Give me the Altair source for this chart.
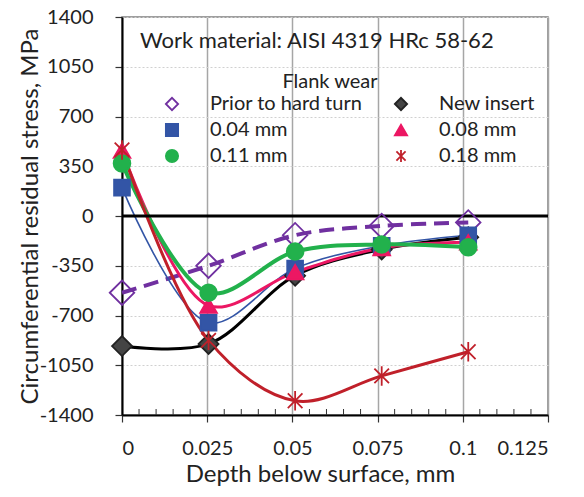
import altair as alt
import pandas as pd

depth_mm = [0, 0.0254, 0.0508, 0.0762, 0.1016]
series_names = ["Prior to hard turn", "New insert", "0.04 mm", "0.08 mm", "0.11 mm", "0.18 mm"]
prior = [-540, -350, -135, -70, -45]
new_insert = [-915, -900, -420, -235, -150]
w004 = [200, -750, -370, -210, -135]
w008 = [460, -630, -395, -225, -185]
w011 = [370, -540, -250, -200, -220]
w018 = [465, -875, -1300, -1125, -955]
x_ticks = [0, 0.025, 0.05, 0.075, 0.1, 0.125]
y_ticks = [-1400, -1050, -700, -350, 0, 350, 700, 1050, 1400]
minor_x = [round(i * 0.005, 3) for i in range(1, 25) if i % 5 != 0]
title_text = "Work material: AISI 4319 HRc 58-62"
legend_title = "Flank wear"
# legend fills column by column: this order gives the two-column layout of the reference
legend_order = ["Prior to hard turn", "0.04 mm", "0.11 mm", "New insert", "0.08 mm", "0.18 mm"]

line_colors = ["#7030A0", "#000000", "#3355A6", "#EC1763", "#22B14C", "#C0202A"]
marker_stroke = ["#7030A0", "#222222", "#3355A6", "#EC1763", "#22B14C", "#C0202A"]
marker_fill = ["transparent", "#444444", "#3355A6", "#EC1763", "#22B14C", "transparent"]
line_widths = [4, 3, 1.6, 3, 4, 3]
marker_sizes = [600, 400, 250, 280, 280, 380]
star = "M-0.75,-0.75L0.75,0.75M-0.75,0.75L0.75,-0.75M0,-1L0,1"
shapes = ["diamond", "diamond", "square", "triangle-up", "circle", star]
dashes = [[15, 8], None, None, None, None, None]

rows = []
for name, vals in zip(series_names, [prior, new_insert, w004, w008, w011, w018]):
    for d, v in zip(depth_mm, vals):
        rows.append({"depth": d, "stress": v, "series": name})
df = pd.DataFrame(rows)


def ordered(values, order):
    m = dict(zip(series_names, values))
    return [m[n] for n in order]


FONT = "Lato"
W, H = 426, 398
xscale = alt.Scale(domain=[0, 0.125], nice=False, zero=False)
yscale = alt.Scale(domain=[-1400, 1400], nice=False)

xaxis = alt.Axis(values=x_ticks, title="Depth below surface, mm",
                 labelExpr="'' + datum.value",
                 grid=True, gridColor="#A6A6A6", gridWidth=1.5,
                 domainColor="#000000", domainWidth=2, tickColor="#333333",
                 tickSize=7, tickWidth=1.2, labelPadding=16, titlePadding=4, titleX=198)
yaxis = alt.Axis(values=y_ticks, title="Circumferential residual stress, MPa",
                 labelExpr="'' + datum.value",
                 grid=True, gridColor="#D0D0D0", gridDash=[2, 2], gridWidth=1,
                 domainColor="#000000", domainWidth=2, tickColor="#333333",
                 tickSize=7, tickWidth=1.2, labelPadding=22, titlePadding=0, titleX=-80)

base = alt.Chart(df)

line_layers = []
for i, name in enumerate(series_names):
    kw = dict(interpolate="catmull-rom", color=line_colors[i], strokeWidth=line_widths[i])
    if dashes[i]:
        kw["strokeDash"] = dashes[i]
    line_layers.append(
        base.transform_filter(alt.datum.series == name).mark_line(**kw).encode(
            x=alt.X("depth:Q", scale=xscale, axis=xaxis),
            y=alt.Y("stress:Q", scale=yscale, axis=yaxis),
            order="depth:Q",
        )
    )

legend = alt.Legend(title=None, orient="none", legendX=23, legendY=77, columns=2,
                    padding=0, labelFont=FONT, labelFontSize=20, labelColor="#222222",
                    symbolSize=150, symbolStrokeWidth=1.8,
                    symbolOffset=17, labelOffset=28, rowPadding=6, columnPadding=11)

shape_scale = alt.Scale(domain=legend_order, range=ordered(shapes, legend_order))
fill_scale = alt.Scale(domain=legend_order, range=ordered(marker_fill, legend_order))
color_scale = alt.Scale(domain=legend_order, range=ordered(marker_stroke, legend_order))

point_layers = []
for i, name in enumerate(series_names):
    point_layers.append(
        base.transform_filter(alt.datum.series == name).mark_point(
            filled=False, strokeWidth=1.8, opacity=1, size=marker_sizes[i]).encode(
            x=alt.X("depth:Q", scale=xscale, axis=xaxis),
            y=alt.Y("stress:Q", scale=yscale, axis=yaxis),
            shape=alt.Shape("series:N", scale=shape_scale, legend=legend),
            fill=alt.Fill("series:N", scale=fill_scale, legend=legend),
            color=alt.Color("series:N", scale=color_scale, legend=legend),
        )
    )

zero = alt.Chart(pd.DataFrame({"z": [0]})).mark_rule(color="#000000", strokeWidth=3).encode(
    y=alt.Y("z:Q", scale=yscale, axis=yaxis))

minor = alt.Chart(pd.DataFrame({"m": minor_x})).mark_rule(color="#333333", strokeWidth=1).encode(
    x=alt.X("m:Q", scale=xscale, axis=xaxis), y=alt.value(H - 6), y2=alt.value(H))

title = alt.Chart(pd.DataFrame({"t": [title_text]})).mark_text(
    align="left", baseline="middle", font=FONT, fontSize=22, color="#222222").encode(
    text="t:N", x=alt.value(18), y=alt.value(24))

leg_title = alt.Chart(pd.DataFrame({"t": [legend_title]})).mark_text(
    align="center", baseline="middle", font=FONT, fontSize=20, color="#222222").encode(
    text="t:N", x=alt.value(208), y=alt.value(65))

chart = alt.layer(*line_layers, zero, minor, *point_layers, title, leg_title).properties(
    width=W, height=H,
    autosize=alt.AutoSizeParams(type="none"),
    padding={"left": 114, "top": 9, "right": 28, "bottom": 74},
).configure_view(stroke="#7F7F7F", strokeWidth=1.5).configure_axis(
    labelFont=FONT, titleFont=FONT, labelFontSize=20, titleFontSize=24,
    labelColor="#222222", titleColor="#222222", titleFontWeight="normal",
)

chart.save("out.html", embed_options={"renderer": "svg", "actions": False})
